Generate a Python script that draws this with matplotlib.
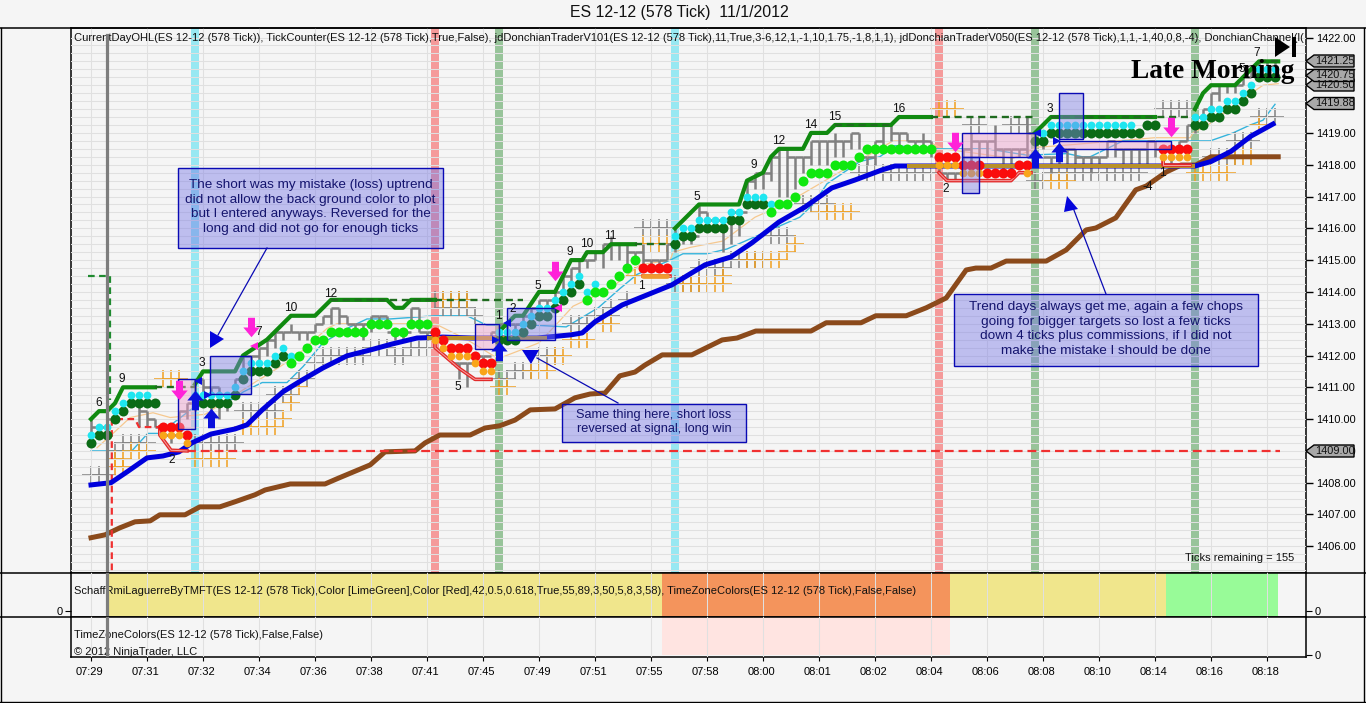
import matplotlib
matplotlib.use("Agg")
import matplotlib.pyplot as plt
from matplotlib.lines import Line2D
from matplotlib.patches import Polygon, Rectangle
from matplotlib.path import Path
from matplotlib.transforms import ScaledTranslation

plt.rcParams['font.family'] = ['Liberation Sans', 'DejaVu Sans']

W, H = 1366, 703
TITLE = "ES 12-12 (578 Tick)  11/1/2012"
time_labels = ["07:29","07:31","07:32","07:34","07:36","07:38","07:41","07:45","07:49","07:51","07:55",
               "07:58","08:00","08:01","08:02","08:04","08:06","08:08","08:10","08:14","08:16","08:18"]
time_bars = [0,7,14,21,28,35,42,49,56,63,70,77,84,91,98,105,112,119,126,133,140,147]

# signal bands: bar
band_cyan = [13, 73]
band_red = [43, 106]
band_green = [51, 118, 138]

blue_bars = [0,2.5,4.5,7,9,11,12.6,15,18,19.5,21.4,24,26.4,29,32,35,37.6,40.75,44,47.6,51.4,55.75,60,61.4,63,66.4,72.6,
             76.75,80,82.6,86,89.25,92.6,95.5,98.9,100.5,102.25,138,140,142.5,145,147.75]
blue_vals = [1407.93,1408,1408.34,1408.78,1408.84,1408.97,1409.25,1409.53,1409.69,1409.82,1410.29,1410.86,1411.23,1411.61,
             1411.99,1412.18,1412.36,1412.55,1412.58,1412.55,1412.55,1412.55,1412.65,1412.71,1413.06,1413.59,1414.22,
             1414.85,1415.1,1415.54,1416.2,1416.67,1417.27,1417.52,1417.84,1417.96,1417.96,1417.96,1418.1,1418.42,1418.9,1419.28]

brown_x = [0,1.75,3.6,5.5,7.4,8.6,11.75,13.6,16.1,18,20.5,21.75,24.9,29.25,31,34.9,36.75,40.5,41.75,43.6,47.4,49.25,51.1,53,54.9,
           58,60.5,62.4,64.25,66.1,68,69.25,71.4,75.1,78.9,80.75,83.1,90,91.9,96.25,98.1,101.9,104.4,106.9,109.4,110.6,112.5,
           114.4,119.4,121.9,124.4,125.6,128.1,130.6,131.9,134.4,136.25,138.1,140,148.4]
brown_y = [1406.27,1406.36,1406.58,1406.77,1406.8,1406.99,1406.99,1407.24,1407.24,1407.4,1407.62,1407.77,1407.96,1407.96,1408.15,
           1408.56,1408.97,1409,1409.25,1409.5,1409.5,1409.72,1409.79,1409.97,1410.29,1410.32,1410.67,1410.79,1410.82,1411.36,
           1411.48,1411.7,1412.02,1412.02,1412.49,1412.55,1412.77,1412.77,1413.03,1413.03,1413.25,1413.25,1413.5,1413.81,1414.69,
           1414.75,1414.75,1414.97,1414.97,1415.32,1415.95,1416.01,1416.33,1417.21,1417.33,1417.77,1417.99,1417.99,1418.25,1418.25]

green_a_x = [0,1,2,3,4,8]
green_a_y = [1410,1410.25,1410.25,1410.5,1411,1411]
green_b_x = [13,14,18,19,22,25,28,30,37,38,39,40,43]
green_b_y = [1411.1,1411.5,1411.5,1412,1412.5,1413.25,1413.25,1413.75,1413.75,1413.5,1413.5,1413.75,1413.75]
green_c_x = [51,52,53,54,56,58,60,61.4,62,64,65,68]
green_c_y = [1412.75,1413,1413.25,1413.25,1414,1414,1415,1415,1415.25,1415.25,1415.5,1415.5]
green_d_x = [73,76,81,82,84,85,86,89,90,92,93,100,101,105]
green_d_y = [1416,1416.75,1416.75,1417.5,1417.75,1418.25,1418.5,1418.5,1419,1419,1419.25,1419.25,1419.5,1419.5]
green_e_x = [118,120,133]
green_e_y = [1419,1419.5,1419.5]
green_f_x = [138,139,140,143,144,146,148.4]
green_f_y = [1419.75,1420.25,1420.5,1420.5,1420.75,1421.25,1421.25]
green_dash_x = [(8,13),(43,54),(68,72.5),(30,43),(93,100),(105,118),(120,138),(146,148.4)]
green_dash_y = [1411,1413.75,1415.5,1413.75,1419.25,1419.5,1419.5,1421.25]
early_x = [-0.4,2.4,2.4]
early_y = [1414.5,1414.5,1410.6]

red_dash_x = [2.6,2.6,5.5,6,8.6]
red_dash_y = [1405.25,1410,1410,1409.75,1409.75]
red_level = 1409.0
red_level_x = [12,148.6]
red_1_x = [8.6,8.6,10,12]
red_1_y = [1409.75,1409.5,1409.02,1409]
red_2_x = [43,43,46,48,50]
red_2_y = [1412.4,1412.25,1411.6,1411.25,1411.25]
red_3_x = [69,72.4]
red_3_y = [1414.5,1414.5]
red_4_x = [106,107,115,116,117.5]
red_4_y = [1417.75,1417.5,1417.5,1417.75,1417.75]
red_5_x = [134,134,137.4]
red_5_y = [1418.25,1418,1418]

gold_x = [[42,57],[102,138]]
gold_y = [1412.55,1417.97]

thin_x = [0,2,3.6,5.1,7.1,8.6,12.75,18,19,21.4,24.5,26.5,29,32.4,34.5,37.4,43,47,49.5,55.75,59.4,63.4,66.1,68.25,72.4,74,77,79.5,88.6,
          90.25,92,96.1,98.6,100.5,105.75,112,117,122,123.9,124.9,129,132,134,139.9,142.75,144.9,146.5,148]
thin_y = [1409,1409,1409,1409,1409.55,1409.55,1410.35,1410.65,1410.85,1411.15,1411.15,1411.65,1412.4,1412.9,1413.15,1413.15,
          1413.25,1413.25,1412.95,1412.95,1412.9,1413.5,1414.1,1414.55,1415,1415.2,1415.2,1415.35,1416.35,1416.75,
          1417.4,1418.1,1418.25,1418.6,1418.5,1418.5,1418.3,1418.35,1418.25,1418.25,1418.75,1418.75,1418.75,1418.75,1419,1419.25,1419.4,1419.9]

peach_x = [0.75,2.75,4.9,7.75,9.9,14.25,20.75,22.4,25.75,29.5,30.75,39,43,47,50.9,54,56,58.25,60.25,64.9,68.6,72.4,72.75,74.9,79,83,87,
           100.25,104.5,106.5,115.25,118.25,121.1,133,137.4,137.75,139.9,143.6,146.5,148.4]
peach_y = [1409.1,1409.55,1410.05,1410.2,1410.05,1410.15,1411.2,1411.45,1412,1412.85,1413,1413,1413,1412.5,1411.9,1412.2,1412.4,1413,
           1413.55,1414.1,1414.85,1415,1415.25,1415.4,1415.6,1416.35,1416.8,1418.75,1418.75,1418.5,1418.2,1418.55,1418.6,1418.85,
           1418.85,1419,1419.3,1420,1420.5,1420.55]

dark_bars = [0,1,2,3,4,5,6,7,8,14,15,16,17,18,19,20,21,22,23,24,51,52,53,54,55,56,57,58,59,60,61,
             73,74,75,76,77,78,79,80,81,82,83,84,118,119,120,121,122,123,124,125,126,127,128,129,130,131,132,133,
             138,139,140,141,142,143,144,145,146,147,148]
dark_vals = [1409.25,1409.5,1409.5,1410,1410.25,1410.5,1410.5,1410.5,1410.5,1410.5,1410.5,1410.5,1410.5,1410.75,1411.25,
             1411.5,1411.5,1411.5,1411.75,1412,1412.5,1412.5,1412.5,1412.75,1413,1413.25,1413.25,1413.5,1413.75,1414,1414.25,
             1415.5,1415.75,1415.75,1416,1416,1416,1416,1416.25,1416.25,1416.75,1416.75,1416.75,1418.75,1418.75,
             1419,1419,1419,1419,1419,1419,1419,1419,1419,1419,1419,1419,1419.25,1419.25,
             1419.25,1419.25,1419.5,1419.5,1419.75,1419.75,1420,1420.25,1420.75,1420.75,1420.75]
cyan_bars = [0,1,2,3,4,5,6,7,13,14,15,16,17,18,19,20,21,22,23,24,25,51,52,53,54,55,56,57,58,59,60,61,62,63,
             73,74,75,76,77,78,79,80,81,82,83,84,85,119,120,121,122,123,124,125,126,127,128,129,130,
             138,139,140,141,142,143,144,145,146,147,148]
cyan_vals = [1409.5,1409.75,1409.75,1410.25,1410.5,1410.75,1410.75,1410.75,1410.75,1410.75,1410.75,1410.75,1410.75,1411,1411.5,
             1411.75,1411.75,1411.75,1412,1412.25,1412,1412.75,1412.75,1412.75,1413,1413.25,1413.5,1413.5,1413.75,1414,1414.25,1414.5,1414,1414.25,
             1415.75,1416,1416,1416.25,1416.25,1416.25,1416.25,1416.5,1416.5,1417,1417,1417,1416.75,
             1419,1419.25,1419.25,1419.25,1419.25,1419.25,1419.25,1419.25,1419.25,1419.25,1419.25,1419.25,
             1419.5,1419.5,1419.75,1419.75,1420,1420,1420.25,1420.5,1421,1421,1421]
lime_bars = [25,26,27,28,29,30,31,32,33,34,35,36,37,38,39,40,41,42,62,63,64,65,66,67,68,85,86,87,88,89,90,91,92,93,94,95,96,
             97,98,99,100,101,102,103,104,105]
lime_vals = [1411.75,1412,1412.25,1412.5,1412.5,1412.75,1412.75,1412.75,1412.75,1412.75,1413,1413,1413,1412.75,1412.75,1413,1413,1413,
             1413.75,1414,1414,1414.25,1414.5,1414.75,1415,1416.5,1416.75,1416.75,1417,1417.5,1417.75,1417.75,1417.75,1418,1418,1418,1418.25,
             1418.5,1418.5,1418.5,1418.5,1418.5,1418.5,1418.5,1418.5,1418.5]
red_bars = [9,10,11,12,43,44,45,46,47,48,49,50,69,70,71,72,106,107,108,109,110,111,112,113,114,115,116,117,134,135,136,137]
red_vals = [1409.75,1409.75,1409.75,1409.5,1412.75,1412.5,1412.25,1412.25,1412.25,1412,1411.75,1411.75,1414.75,1414.75,1414.75,1414.75,
            1418.25,1418.25,1418.25,1418,1418,1418,1417.75,1417.75,1417.75,1417.75,1418,1418,1418.5,1418.5,1418.5,1418.5]
orange_bars = [9,10,11,12,43,44,45,46,47,48,49,50,106,107,108,109,110,111,117,134,135,136,137]
orange_vals = [1409.5,1409.5,1409.5,1409.25,1412.5,1412.25,1412,1412,1412,1411.75,1411.5,1411.5,1418,1418,1418,1417.75,1417.75,1417.75,1417.75,
               1418.25,1418.25,1418.25,1418.25]
orange_bar_strip = [69,72]
orange_strip_val = 1414.5

gray_high = [1410,1409.75,1410,1410.25,1410.5,1410.75,1410.5,1410.25,1410,1409.75,1409.5,1410.25,1410.5,1411.25,1411.25,1411,1411,1410.75,
             1411.25,1412,1412,1412.25,1412.5,1412.75,1412.75,1413,1412.75,1412.75,1413,1413.25,1413.5,1413.5,1413.25,1413,1413,1413.25,
             1413.25,1413.25,1412.75,1412.75,1413.5,1413.5,1412.75,1412.75,1412.5,1412.25,1411.75,1411.75,1412,1412,1412.75,1413,1413,
             1413,1413.25,1413.5,1413.75,1413.75,1414,1414.5,1414.75,1415,1415,1415.25,1415.5,1415.75,1415.5,1415.5,1415.25,1415.5,1415,
             1415,1415.5,1416,1415.75,1415.75,1416.75,1416.5,1416.25,1416.25,1416.5,1416.5,1417.5,1417.75,1417.75,1418.25,1418.5,1418.5,
             1418.25,1418.25,1418.75,1418.75,1418.75,1419,1418.75,1419,1419,1418.25,1418.75,1419.25,1419.25,1419,1419,1418.75,1419,1418.75,
             1418,1417.75,1417.75,1418.5,1419,1418.75,1418.75,1419.25,1418.5,1418.5,1418.5,1419.5,1419,1418.75,1418.25,1418.5,1418.5,
             1418.5,1418.25,1418.25,1418.25,1418.75,1418.75,1418.5,1418.5,1418.5,1418.75,1418.75,1418.5,1418.5,1418.75,1419.25,1419.5,
             1419.75,1420.25,1420.5,1420.5,1420.5,1420.75,1421,1421.25,1421.25,1421.25]
gray_low = [1409.5,1409.5,1409.75,1410,1410.25,1410.5,1409.75,1409.75,1409.75,1409.5,1409.25,1409.75,1410,1410.25,1410.5,1410.25,1410,1410.25,
            1411,1411.25,1411.5,1411.75,1412,1412.25,1412.5,1412.75,1412.5,1412.5,1412.75,1413,1413,1413,1413,1412.75,1412.5,1412.75,
            1413,1413,1412.5,1412.5,1413,1412.75,1412.5,1412.5,1412.25,1412,1411.25,1411,1411.75,1411.75,1412.5,1412.25,1412.5,
            1412.5,1412.75,1413,1413.25,1413.25,1413.5,1413.75,1414.25,1414.5,1414.75,1415,1414.75,1415,1415,1414.75,1415,1414.75,1414.75,
            1414.75,1415,1415.25,1415.5,1415.5,1416.25,1416,1416,1415.25,1415.5,1415.75,1417,1417.25,1417.25,1417.5,1417,1417,
            1417.25,1417.75,1418,1418,1418,1418.25,1418.25,1418.5,1418.5,1418,1418,1418.5,1418.75,1418.5,1418.75,1418.5,1418.5,1418.25,
            1417.75,1417.5,1417.5,1418,1418,1418.25,1418.25,1418.25,1417.75,1417.75,1418.25,1418.25,1418,1418.5,1417.75,1418,1418,
            1418,1418,1417.75,1418,1418.25,1418.25,1418,1418,1418,1418,1418.25,1418,1418,1418.5,1418.75,1419,
            1419.25,1419.75,1420,1420.25,1420.25,1420.5,1420.75,1420.75,1420.75,1421]

gray_cross_x = [0,1,2,3,4,5,6,7,13,14,15,16,17,18,19,20,21,22,23,23,24,25,26,27,28,29,30,31,32,33,34,35,36,37,38,39,40,41,42,
                43,44,45,46,47,44,45,46,47,48,51,52,53,54,55,56,57,58,60,61,62,63,64,65,65,67,69,70,71,72,73,74,75,76,76,77,78,79,
                80,81,82,83,84,85,86,87,89,90,91,92,96,97,98,99,100,101,102,103,104,105,110,111,115,116,117,118,119,
                120,121,122,123,124,125,126,127,128,129,130,131,134,135,136,137,140,141,142,143,143,144,145,146,147,148]
gray_cross_y = [1408.25,1408.25,1408.25,1409,1409.25,1409.25,1409.25,1409.25,1409.25,1409.25,1409.25,1409.25,1409.25,1409.25,1410.25,1410.25,1410.25,
                1410.25,1410.25,1410.75,1410.75,1410.75,1411.25,1411.25,1411.75,1412,1412,1412,1412,1412,1412,1412.25,1412.25,1412.25,1412,1412,
                1412.25,1412.25,1412.25,1413.75,1413.5,1413.5,1413.5,1413.5,1413.75,1413.75,1413.75,1413.75,1413.25,1411.25,1411.25,1411.5,1411.5,1411.5,1412,1412,1412,
                1413,1413,1413,1413.25,1413.25,1413.25,1413.5,1413.75,1416,1416,1416,1416,1414.25,1414.25,1414.25,1414.25,1414.75,1414.75,1414.75,1414.75,
                1415,1415,1415,1415,1415,1415.75,1415.75,1415.75,1416.75,1416.75,1416.75,1416.75,1417.75,1417.75,1417.75,1417.75,1417.75,1417.75,1417.75,1417.75,1417.75,1417.75,
                1419.25,1419.25,1419.25,1419.25,1419.25,1417.5,1417.5,
                1417.75,1417.75,1417.75,1417.75,1417.75,1417.75,1417.75,1417.75,1417.75,1417.75,1417.75,1417.75,1419.75,1419.75,1419.75,1419.75,
                1418.25,1418.25,1418.25,1418.25,1418.75,1418.75,1418.75,1419.5,1419.5,1419.5]
orange_cross_x = [3,4,5,6,7,3,4,9,10,11,13,14,15,16,17,19,20,21,22,23,24,25,26,44,45,46,47,51,52,55,56,57,58,59,60,61,62,64,65,68,
                  69,70,71,72,74,75,76,77,78,79,79,82,83,84,85,86,87,88,91,92,93,94,95,106,107,108,120,121,122,138,139,140,141,142,143,144,145,146]
orange_cross_y = [1408.75,1408.75,1409,1409,1409,1408.5,1408.5,1411.25,1411.25,1411.25,1408.75,1408.75,1408.75,1408.75,1408.75,
                  1409.75,1409.75,1409.75,1409.75,1409.75,1410,1410.5,1411,1413.75,1413.75,1413.75,1413.75,1411,1411,1411.5,1411.5,1411.5,1412,1412,1412.5,1412.5,1412.5,1413,1413,1414.5,
                  1415.5,1415.5,1415.5,1415.5,1414.25,1414.25,1414.25,1414.25,1414.25,1414.25,1414.5,1415,1415,1415,1415,1415,1415.25,1415.5,
                  1416.5,1416.5,1416.5,1416.5,1416.5,1419.75,1419.75,1419.75,1417.5,1417.5,1417.5,1417.75,1417.75,1417.75,1417.75,1417.75,1418.25,1418.25,1418.25,1419.25]

# tinted rectangles: left bar, right bar, low, high
pink_rects = [(10.9,13,1409.7,1411.25),(48,51,1412.2,1413),(108.9,118,1418.25,1419),(121,135,1418.5,1418.75)]
blue_rects = [(14.9,20,1410.8,1412),(52,58,1412.5,1413.5),(108.9,111,1417.1,1418.25),(121,124,1418.8,1420.25)]

magenta_arrows_x = [11,20,58,108,135]
magenta_arrows_y = [1410.9,1412.9,1414.65,1418.7,1419.2]
up_arrows_x = [13,15,51,118,121]
up_arrows_y = [1410.6,1410.05,1412.15,1418.2,1418.4]
tri_left_x = [13.4,52,118.3]
tri_left_y = [1411.2,1413.03,1419]
tri_right_x = [14.6,50.6,120.8]
tri_right_y = [1410.75,1412.5,1418.75]
tri_mag_x = [20.4,58.4]
tri_mag_y = [1412.3,1413.5]

count_txt = ["6","9","2","3","7","10","12","5","1","2","5","9","10","11","1","5","9","12","14","15","16","2","3","1","-4","4","5","7"]
count_x = [0.9,3.9,10.1,13.9,20.9,24.9,29.9,45.9,50.9,52.75,55.9,59.9,61.9,64.9,68.75,75.75,82.9,85.9,89.9,92.9,100.9,106.9,119.9,133.9,132.1,139.75,143.9,145.75]
count_y = [1410.5,1411.25,1408.7,1411.75,1412.75,1413.5,1413.95,1411,1413.25,1413.45,1414.2,1415.25,1415.5,1415.75,1414.2,1417,1418,1418.75,1419.25,1419.5,1419.75,1417.25,1419.75,1417.75,1417.3,1420.75,1421,1421.5]

flag_vals = [1420.50,1420.75,1421.25,1419.88,1409.00]
flag_px = [85,75.5,61,103.5,451]
right_ticks = [1422,1419,1418,1417,1416,1415,1414,1413,1412,1411,1410,1409,1408,1407,1406]

strip_edges = [2.25,71.4,107.4,134.4,148.4]
strip_cols = ['#f0e68c','#f4945c','#f0e68c','#98fb98']
pink_strip = (71.4,107.4)

BG = '#f5f5f5'
GRID = '#e0e0e0'
fig = plt.figure(figsize=(W/100,H/100),dpi=100,facecolor=BG)

def axrect(x0,y0,x1,y1):
    return [x0/W,1-y1/H,(x1-x0)/W,(y1-y0)/H]

X0,X1 = (71-91)/8,(1306-91)/8
ax = fig.add_axes(axrect(71,28,1306,573),facecolor=BG)
ax2 = fig.add_axes(axrect(71,573,1306,617),facecolor=BG)
ax3 = fig.add_axes(axrect(71,617,1306,657),facecolor=BG)
for a in (ax,ax2,ax3):
    a.set_xlim(X0,X1)
    a.set_xticks(time_bars)
    a.grid(axis='x',color=GRID,lw=0.75,zorder=1.5)
    a.set_axisbelow(False)
    for s in a.spines.values():
        s.set_linewidth(1.1)
    a.tick_params(axis='x',length=0,labelbottom=False)
    a.axvline(2,color='#7d7d7d',lw=2.3,zorder=12,ymax=(573-35)/545 if a is ax else 1)
ax.set_ylim(1405.16,1422.30)
ax.yaxis.tick_right()
ax.set_yticks(right_ticks)
ax.set_yticklabels([f"{v:.2f}" for v in right_ticks],fontsize=7.9)
ax.tick_params(axis='y',length=5,pad=2.2,color='black',width=1)
ax.set_yticks([1405.25+0.25*i for i in range(68)],minor=True)
ax.tick_params(axis='y',which='minor',length=0)
ax.grid(axis='y',which='both',color=GRID,lw=0.75,zorder=1.5)

ax3.tick_params(axis='x',length=3,width=0.8,labelbottom=True,labelsize=8,pad=4)
ax3.set_xticklabels(time_labels)
shift = ScaledTranslation(-1.5/100,0,fig.dpi_scale_trans)
for lab in ax3.get_xticklabels():
    lab.set_transform(lab.get_transform()+shift)
ax2.set_ylim(-6,38); ax3.set_ylim(-2,38)
ax2.set_yticks([0]); ax3.set_yticks([0])
ax2.tick_params(axis='y',left=True,right=True,labelleft=True,labelright=True,labelsize=8,length=4,pad=2)
ax3.tick_params(axis='y',left=False,right=True,labelleft=False,labelright=True,labelsize=8,length=4,pad=2)

for i,c in enumerate(strip_cols):
    ax2.axvspan(strip_edges[i],strip_edges[i+1],color=c,lw=0,zorder=1)
ax3.axvspan(pink_strip[0],pink_strip[1],ymin=2/40,color='#ffe4e1',lw=0,zorder=1)

def bands(bars,col):
    for b in bars:
        ax.axvspan(b-0.5,b+0.5,color=col,lw=0,zorder=1)
bands(band_cyan,'#98e8f2'); bands(band_red,'#f59a9a'); bands(band_green,'#98c49a')

# thin lines
ax.plot(peach_x,peach_y,color='#f5c88f',lw=0.9,zorder=2.2)
ax.plot(thin_x,thin_y,color='#35b4dc',lw=1.0,zorder=2.4)

# gray price bars
n=len(gray_high)
for b in range(n):
    ax.plot([b,b],[gray_low[b],gray_high[b]],color='#808080',lw=1.8,solid_capstyle='butt',zorder=2.6)
    if b<n-1:
        lvl=min(gray_high[b],gray_high[b+1])
        ax.plot([b,b+1],[lvl,lvl],color='#808080',lw=1.8,solid_capstyle='butt',zorder=2.6)
ax.plot(gray_cross_x,gray_cross_y,ls='',marker='+',ms=13,mew=1.1,color='#808080',zorder=2.5)
ax.plot(orange_cross_x,orange_cross_y,ls='',marker='+',ms=13,mew=1.1,color='#f0a020',zorder=2.5)

# main trend lines
ax.plot(brown_x,brown_y,color='#8b4a1b',lw=3.6,zorder=3,solid_joinstyle='round')
ax.plot(blue_bars,blue_vals,color='#0000dc',lw=3.6,zorder=3.2,solid_joinstyle='round')
for xs,yv in zip(gold_x,gold_y):
    ax.plot(xs,[yv,yv],color='#b8902a',lw=3,solid_capstyle='butt',zorder=3.3)
ax.plot(red_dash_x,red_dash_y,color='#f03030',lw=1.6,ls=(0,(3,2)),zorder=3.1)
ax.plot(red_level_x,[red_level,red_level],color='#f03030',lw=1.6,ls=(0,(4,2.2)),zorder=3.1)
for xs,ys in [(red_1_x,red_1_y),(red_2_x,red_2_y),(red_3_x,red_3_y),(red_4_x,red_4_y),(red_5_x,red_5_y)]:
    ax.plot(xs,ys,color='#e22a2a',lw=2.6,zorder=3.4,solid_joinstyle='round')
    ax.plot(xs,ys,color='#f4a0a0',lw=0.7,zorder=3.45)
for xs,ys in [(green_a_x,green_a_y),(green_b_x,green_b_y),(green_c_x,green_c_y),(green_d_x,green_d_y),(green_e_x,green_e_y),(green_f_x,green_f_y)]:
    ax.plot(xs,ys,color='#108a10',lw=3,zorder=3.5,solid_joinstyle='round')
for xs,yv in zip(green_dash_x,green_dash_y):
    ax.plot(xs,[yv,yv],color='#1f6b1f',lw=1.7,ls=(0,(3,2)),zorder=3.6)
ax.plot(early_x,early_y,color='#1f8a2f',lw=1.6,ls=(0,(3,2)),zorder=3.6)

# dots
ax.plot(dark_bars,dark_vals,ls='',marker='o',ms=7.2,mew=0,color='#0b6b16',zorder=4)
ax.plot(cyan_bars,cyan_vals,ls='',marker='o',ms=5.6,mew=0,color='#1ee6f0',zorder=4)
ax.plot(lime_bars,lime_vals,ls='',marker='o',ms=7.2,mew=0,color='#0fe80f',zorder=4)
ax.plot(red_bars,red_vals,ls='',marker='o',ms=7.2,mew=0,color='#fa0c0c',zorder=4)
ax.plot(orange_bars,orange_vals,ls='',marker='o',ms=5.6,mew=0,color='#f9a51a',zorder=4)
ax.plot(orange_bar_strip,[orange_strip_val]*2,color='#f09a30',lw=3.4,zorder=3.9,solid_capstyle='round')

# rectangles
for l,r,lo,hi in pink_rects:
    ax.add_patch(Rectangle((l,lo),r-l,hi-lo,fc=(0.93,0.62,0.80,0.45),ec='#0a0ab4',lw=1.0,zorder=5))
for l,r,lo,hi in blue_rects:
    ax.add_patch(Rectangle((l,lo),r-l,hi-lo,fc=(0.50,0.50,0.90,0.45),ec='#0a0ab4',lw=1.0,zorder=5))

# arrows / small triangles
down = Path([(-.18,.5),(.18,.5),(.18,0),(.42,0),(0,-.5),(-.42,0),(-.18,0),(-.18,.5)],closed=True)
up = Path([(-.18,-.5),(.18,-.5),(.18,0),(.42,0),(0,.5),(-.42,0),(-.18,0),(-.18,-.5)],closed=True)
ax.plot(magenta_arrows_x,magenta_arrows_y,ls='',marker=down,ms=14,mew=0,color='#ff22d8',zorder=6)
ax.plot(up_arrows_x,up_arrows_y,ls='',marker=up,ms=14,mew=0,color='#0a10dc',zorder=6)
ax.plot(tri_left_x,tri_left_y,ls='',marker='<',ms=5.5,mew=0,color='#0a10dc',zorder=6)
ax.plot(tri_right_x,tri_right_y,ls='',marker='>',ms=5.5,mew=0,color='#0a10dc',zorder=6)
ax.plot(tri_mag_x,tri_mag_y,ls='',marker='<',ms=5.5,mew=0,color='#ff22d8',zorder=6)

for x,y,t in zip(count_x,count_y,count_txt):
    ax.text(x,y,t,fontsize=8.6,ha='center',va='center',color='#111111',zorder=7)

# figure level
def fx(p): return p/W
def fy(p): return 1-p/H
def fpoly(pts,**k):
    fig.add_artist(Polygon([(fx(a),fy(b)) for a,b in pts],closed=True,transform=fig.transFigure,**k))
def fline(xs,ys,**k):
    fig.add_artist(Line2D([fx(a) for a in xs],[fy(b) for b in ys],transform=fig.transFigure,**k))

fig.text(fx(679),fy(13),TITLE,fontsize=11.4,ha='center',va='center',color='#111111')
ovl = ("CurrentDayOHL(ES 12-12 (578 Tick)), TickCounter(ES 12-12 (578 Tick),True,False), "
       "jdDonchianTraderV101(ES 12-12 (578 Tick),11,True,3-6,12,1,-1,10,1.75,-1,8,1,1), "
       "jdDonchianTraderV050(ES 12-12 (578 Tick),1,1,-1,40,0,8,-4), DonchianChannel(l(")
ax.text(0.0024,0.981,ovl,transform=ax.transAxes,fontsize=8.0,va='center',ha='left',color='#111111',zorder=9)
ax2.text(0.0024,0.59,"SchaffRmiLaguerreByTMFT(ES 12-12 (578 Tick),Color [LimeGreen],Color [Red],42,0.5,0.618,True,55,89,3,50,5,8,3,58), TimeZoneColors(ES 12-12 (578 Tick),False,False)",
         transform=ax2.transAxes,fontsize=7.97,va='center',ha='left',color='#111111',zorder=9)
ax3.text(0.0024,0.55,"TimeZoneColors(ES 12-12 (578 Tick),False,False)",transform=ax3.transAxes,fontsize=8,va='center',ha='left',color='#111111',zorder=9)
ax3.text(0.0024,0.12,"\u00a9 2012 NinjaTrader, LLC",transform=ax3.transAxes,fontsize=8,va='center',ha='left',color='#111111',zorder=9)
fig.text(fx(1294),fy(558),"Ticks remaining = 155",fontsize=8,ha='right',va='center',color='#111111')

# note boxes
notes = [(178,168,443,248,9.7,"The short was my mistake (loss) uptrend\ndid not allow the back ground color to plot\nbut I entered anyways. Reversed for the\nlong and did not go for enough ticks"),
         (562,404,746,442,9.2,"Same thing here, short loss\nreversed at signal, long win"),
         (954,294,1258,366,9.7,"Trend days always get me, again a few chops\ngoing for bigger targets so lost a few ticks\ndown 4 ticks plus commissions, if I did not\nmake the mistake I should be done")]
for x0,y0,x1,y1,fs,s in notes:
    fig.add_artist(Rectangle((fx(x0),fy(y1)),(x1-x0)/W,(y1-y0)/H,transform=fig.transFigure,fc=(0.45,0.45,0.9,0.42),ec='#0a0ab4',lw=1.0,zorder=8))
    fig.text(fx((x0+x1)/2),fy((y0+y1)/2-1),s,fontsize=fs,ha='center',va='center',color='#14146e',linespacing=1.27,zorder=9)

# pointers
for seg in [((267,248),(218,335)),((537,358),(618,403)),((1072,205),(1106,294))]:
    fline([seg[0][0],seg[1][0]],[seg[0][1],seg[1][1]],color='#0a0ab4',lw=0.9,zorder=8)
fpoly([(210,331),(210,348),(224,339)],fc='#0505dc',ec='none',zorder=8)
fpoly([(522,350),(539,350),(531,364)],fc='#0505dc',ec='none',zorder=8)
fpoly([(1067,196),(1064,212),(1078,209)],fc='#0505dc',ec='none',zorder=8)

# Late Morning & end icon
fig.text(fx(1131),fy(71),"Late Morning",fontfamily='Liberation Serif',fontweight='bold',fontsize=19.7,ha='left',va='center',color='black',zorder=10)
fpoly([(1275,37),(1275,57),(1290,47)],fc='black',ec='none',zorder=10)
fpoly([(1292,37),(1296,37),(1296,57),(1292,57)],fc='black',ec='none',zorder=10)

# price flags
fline([1306,1354],[69,69],color='black',lw=1,zorder=9)
for v,py in zip(flag_vals,flag_px):
    fpoly([(1306,py),(1314,py-6),(1354,py-6),(1354,py+6),(1314,py+6)],fc='#a8a8a8',ec='black',lw=1,zorder=10)
    fig.text(fx(1315),fy(py),f"{v:.2f}",fontsize=7.9,ha='left',va='center',color='#111111',zorder=11)

# outer frame
fline([0,1366],[27.5,27.5],color='black',lw=1.1)
fline([0,71],[573,573],color='black',lw=1.1)
fline([0,71],[617,617],color='black',lw=1.1)
fline([1306,1366],[573,573],color='black',lw=1.1)
fline([1306,1366],[617,617],color='black',lw=1.1)
fline([0.5,0.5],[27.5,702],color='black',lw=1)
fline([0,1366],[702,702],color='black',lw=1)
fline([1363.5,1363.5],[27.5,702],color='black',lw=1)

fig.savefig('out.png',dpi=100,facecolor=BG)
